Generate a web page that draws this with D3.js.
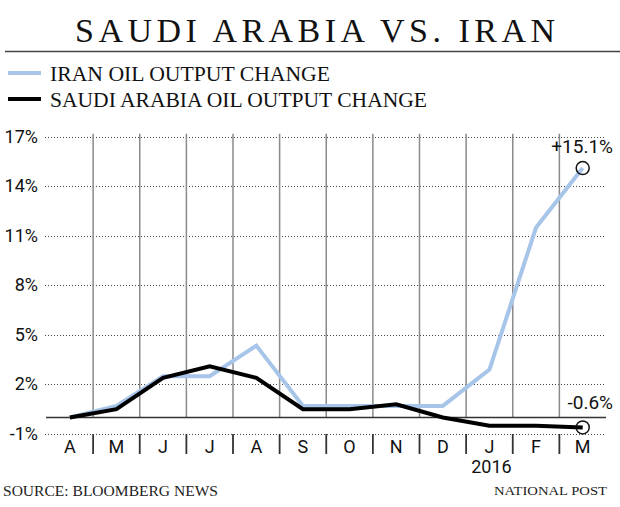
<!DOCTYPE html>
<html>
<head>
<meta charset="utf-8">
<script src="https://cdn.jsdelivr.net/npm/d3@7"></script>
<style>
  html, body { margin: 0; padding: 0; background: #fff; }
  svg { display: block; }
</style>
</head>
<body>
<svg id="chart" width="620" height="507"></svg>
<script>
const months = ["A", "M", "J", "J", "A", "S", "O", "N", "D", "J", "F", "M"];
const iranValues = [0, 0.7, 2.5, 2.5, 4.35, 0.7, 0.7, 0.7, 0.7, 2.9, 11.5, 15.1];
const saudiValues = [0, 0.5, 2.4, 3.1, 2.4, 0.5, 0.5, 0.8, 0.0, -0.5, -0.5, -0.6];
const yTicks = [17, 14, 11, 8, 5, 2, -1];
const seriesNames = ["IRAN OIL OUTPUT CHANGE", "SAUDI ARABIA OIL OUTPUT CHANGE"];
const seriesColors = ["#a7c4e9", "#000000"];
const endLabels = ["+15.1%", "-0.6%"];

const svg = d3.select("#chart");
const sans = "'Liberation Sans Narrow', 'Roboto', 'Liberation Sans', sans-serif";
const serif = "'Liberation Serif', 'DejaVu Serif', serif";

// Title
svg.append("text")
  .attr("x", 75).attr("y", 42)
  .attr("textLength", 480).attr("lengthAdjust", "spacing")
  .style("font-family", serif).style("font-size", "34px").style("fill", "#111")
  .text("SAUDI ARABIA VS. IRAN");
svg.append("line")
  .attr("x1", 5).attr("x2", 620).attr("y1", 51.5).attr("y2", 51.5)
  .attr("stroke", "#444").attr("stroke-width", 1.5);

// Legend
const legendWidths = [280, 377];
seriesNames.forEach((name, i) => {
  const y = 73 + i * 26;
  svg.append("line")
    .attr("x1", 8).attr("x2", 41).attr("y1", y).attr("y2", y)
    .attr("stroke", seriesColors[i]).attr("stroke-width", 4);
  svg.append("text")
    .attr("x", 50).attr("y", y + 7.5)
    .attr("textLength", legendWidths[i]).attr("lengthAdjust", "spacingAndGlyphs")
    .style("font-family", serif).style("font-size", "20px").style("fill", "#111")
    .text(name);
});

// Scales
const x = d3.scaleBand().domain(months.map((d, i) => i)).range([46.5, 606]);
const y = d3.scaleLinear().domain([-1, 17]).range([434, 136.7]);
const cx = i => x(i) + x.bandwidth() / 2;

// Horizontal dotted gridlines
svg.append("g").selectAll("line").data(yTicks).join("line")
  .attr("x1", 45).attr("x2", 605)
  .attr("y1", d => Math.round(y(d)) + 0.5).attr("y2", d => Math.round(y(d)) + 0.5)
  .attr("stroke", "#444").attr("stroke-width", 1).attr("stroke-dasharray", "1,2");

// Y labels
svg.append("g").selectAll("text").data(yTicks).join("text")
  .attr("x", 38).attr("y", d => y(d) + 6)
  .attr("text-anchor", "end")
  .style("font-family", sans).style("font-size", "18px").style("fill", "#111")
  .text(d => d + "%");

// Vertical gridlines (month boundaries)
const bounds = months.map((d, i) => i).slice(1);
svg.append("g").selectAll("line").data(bounds).join("line")
  .attr("x1", d => x(d)).attr("x2", d => x(d))
  .attr("y1", y(17) - 3).attr("y2", y(0))
  .attr("stroke", "#8a8a8a").attr("stroke-width", 1.5);
// Tick marks below
svg.append("g").selectAll("line").data(bounds).join("line")
  .attr("x1", d => x(d)).attr("x2", d => x(d))
  .attr("y1", y(-1)).attr("y2", 454)
  .attr("stroke", "#333").attr("stroke-width", 1.8);

// Zero line
svg.append("line")
  .attr("x1", 46).attr("x2", 606).attr("y1", y(0)).attr("y2", y(0))
  .attr("stroke", "#333").attr("stroke-width", 1.5);

// Month labels
svg.append("g").selectAll("text").data(months).join("text")
  .attr("x", (d, i) => cx(i)).attr("y", 453)
  .attr("text-anchor", "middle")
  .style("font-family", sans).style("font-size", "18px").style("fill", "#111")
  .text(d => d);
svg.append("text")
  .attr("x", cx(9) + 2).attr("y", 473)
  .attr("text-anchor", "middle")
  .style("font-family", sans).style("font-size", "18px").style("fill", "#111")
  .text("2016");

// Lines
const line = d3.line().x((d, i) => cx(i)).y(d => y(d));
[iranValues, saudiValues].forEach((vals, k) => {
  svg.append("path").datum(vals)
    .attr("d", line)
    .attr("fill", "none")
    .attr("stroke", seriesColors[k])
    .attr("stroke-width", 4)
    .attr("stroke-linejoin", "miter");
});

// End markers
const last = months.length - 1;
[iranValues, saudiValues].forEach((vals, k) => {
  svg.append("circle")
    .attr("cx", cx(last)).attr("cy", y(vals[last])).attr("r", 6.5)
    .attr("fill", "none").attr("stroke", "#111").attr("stroke-width", 1.5);
});
svg.append("text")
  .attr("x", 613).attr("y", y(iranValues[last]) - 15)
  .attr("text-anchor", "end")
  .style("font-family", sans).style("font-size", "19px").style("fill", "#111")
  .text(endLabels[0]);
svg.append("text")
  .attr("x", 613).attr("y", y(saudiValues[last]) - 18)
  .attr("text-anchor", "end")
  .style("font-family", sans).style("font-size", "19px").style("fill", "#111")
  .text(endLabels[1]);

// Footer
svg.append("text")
  .attr("x", 3).attr("y", 496)
  .attr("textLength", 215).attr("lengthAdjust", "spacingAndGlyphs")
  .style("font-family", serif).style("font-size", "15px").style("fill", "#222")
  .text("SOURCE: BLOOMBERG NEWS");
svg.append("text")
  .attr("x", 494).attr("y", 495)
  .attr("textLength", 113).attr("lengthAdjust", "spacingAndGlyphs")
  .style("font-family", serif).style("font-size", "13px").style("fill", "#222")
  .text("NATIONAL POST");
</script>
</body>
</html>
